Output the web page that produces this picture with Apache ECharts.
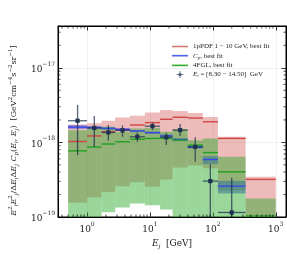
<!DOCTYPE html>
<html>
<head>
<meta charset="utf-8">
<script src="https://cdn.jsdelivr.net/npm/echarts@6/dist/echarts.min.js"></script>
<style>html,body{margin:0;padding:0;background:#fff}#c{width:287px;height:256px}</style>
</head>
<body>
<div id="c"></div>
<script>
// ---- data ----
const binEdges = [0.5, 1.0, 1.7, 2.8, 4.8, 8.3, 14.5, 22.9, 39.8, 69.2, 120.2, 331.1, 1000];

const pdfBest = [1.03e-18, 1.22e-18, 1.39e-18, 1.49e-18, 1.71e-18, 1.84e-18, 2.04e-18, 2.17e-18, 2.12e-18, 1.89e-18, 1.13e-18, 3.19e-19];
const pdfHigh = [1.74e-18, 1.80e-18, 1.95e-18, 2.15e-18, 2.28e-18, 2.51e-18, 2.71e-18, 2.63e-18, 2.48e-18, 2.19e-18, 1.19e-18, 3.45e-19];
const pdfLow  = [1.55e-19, 1.83e-19, 2.17e-19, 2.59e-19, 2.93e-19, 2.54e-19, 3.19e-19, 4.60e-19, 4.90e-19, 4.50e-19, 2.29e-19, 5.0e-20];

const cpBest = [1.60e-18, 1.58e-18, 1.54e-18, 1.49e-18, 1.42e-18, 1.35e-18, 1.22e-18, 1.09e-18, 8.7e-19, 5.9e-19, 2.59e-19, 5.0e-20];
const cpHigh = [1.70e-18, 1.65e-18, 1.60e-18, 1.55e-18, 1.47e-18, 1.40e-18, 1.28e-18, 1.14e-18, 9.1e-19, 6.55e-19, 3.05e-19, 6.0e-20];
const cpLow  = [1.52e-18, 1.52e-18, 1.48e-18, 1.44e-18, 1.38e-18, 1.30e-18, 1.17e-18, 1.04e-18, 8.3e-19, 5.1e-19, 2.07e-19, 4.0e-20];

const fglBest = [7.7e-19, 8.65e-19, 9.5e-19, 1.02e-18, 1.10e-18, 1.13e-18, 1.13e-18, 1.07e-18, 9.2e-19, 7.3e-19, 4.03e-19, 1.03e-19];
const fglHigh = [1.46e-18, 1.54e-18, 1.62e-18, 1.39e-18, 1.54e-18, 1.57e-18, 1.39e-18, 1.51e-18, 1.07e-18, 1.13e-18, 6.4e-19, 1.77e-19];
const fglLow  = [8e-20, 8e-20, 1.16e-19, 1.34e-19, 1.52e-19, 1.44e-19, 1.26e-19, 8e-20, 8e-20, 8e-20, 8e-20, 5e-20];

const dataVal = [1.95e-18, 1.56e-18, 1.36e-18, 1.45e-18, 1.19e-18, 1.65e-18, 1.17e-18, 1.46e-18, 8.7e-19, 3.03e-19, 1.15e-19];
const dataHi  = [3.17e-18, 2.25e-18, 1.71e-18, 1.69e-18, 1.36e-18, 1.83e-18, 1.35e-18, 1.76e-18, 1.17e-18, 5.1e-19, 3.35e-19];
const dataLo  = [6.75e-19, 8.7e-19, 1.05e-18, 1.19e-18, 1.02e-18, 1.46e-18, 9.2e-19, 1.22e-18, 5.5e-19, 5e-20, 5e-20];

const xMin = 0.3456, xMax = 1455;
const yMin = 1e-19, yMax = 3.63e-17;

const legendNames = ['1pPDF 1 − 10 GeV, best fit', 'Cp, best fit', '4FGL, best fit', 'Ei data'];

// ---- helpers ----
const SERIF = 'DejaVu Serif';
function clipRect(params, r) {
  const cs = params.coordSys;
  return echarts.graphic.clipRectByRect(r, {x: cs.x, y: cs.y, width: cs.width, height: cs.height});
}
function clampY(params, y) {
  const cs = params.coordSys;
  return Math.max(cs.y, Math.min(cs.y + cs.height, y));
}
function binData(a, b) {
  return binEdges.slice(0, -1).map((e, i) => [e, binEdges[i + 1], a[i], b ? b[i] : a[i]]);
}
function bandSeries(hi, lo, color) {
  return {
    type: 'custom', silent: true, z: 2,
    data: binData(hi, lo),
    encode: {x: [0, 1], y: [2, 3]},
    renderItem: function (params, api) {
      const p1 = api.coord([api.value(0), api.value(2)]);
      const p2 = api.coord([api.value(1), api.value(3)]);
      const r = clipRect(params, {x: p1[0], y: p1[1], width: p2[0] - p1[0], height: p2[1] - p1[1]});
      if (!r) return;
      return {type: 'rect', shape: r, style: {fill: color}};
    }
  };
}
function lineSeries(best, color, w) {
  return {
    type: 'custom', silent: true, z: 4,
    data: binData(best),
    encode: {x: [0, 1], y: [2]},
    renderItem: function (params, api) {
      const p1 = api.coord([api.value(0), api.value(2)]);
      const p2 = api.coord([api.value(1), api.value(2)]);
      const cs = params.coordSys;
      if (p1[1] > cs.y + cs.height || p1[1] < cs.y) return;
      return {type: 'line', shape: {x1: p1[0], y1: p1[1], x2: p2[0], y2: p2[1]},
        style: {stroke: color, lineWidth: w}};
    }
  };
}
function supLabel(v) {
  const e = Math.round(Math.log10(v));
  return '{b|10}{e|' + (e < 0 ? '−' + (-e) : e) + '}';
}
const labelRich = {
  b: {fontFamily: SERIF, fontSize: 9, color: '#222', lineHeight: 13, verticalAlign: 'bottom'},
  e: {fontFamily: SERIF, fontSize: 6, color: '#222', lineHeight: 13, verticalAlign: 'top'}
};

// minor tick values
const xMinor = [], yMinor = [];
for (let d = -1; d <= 3; d++) for (let m = 2; m <= 9; m++) {
  const v = m * Math.pow(10, d); if (v > xMin && v < xMax) xMinor.push([v, yMin]);
}
for (let d = -19; d <= -17; d++) for (let m = 2; m <= 9; m++) {
  const v = m * Math.pow(10, d); if (v > yMin && v < yMax) yMinor.push([xMin, v]);
}

const chart = echarts.init(document.getElementById('c'), null, {renderer: 'canvas'});
const axisCommon = {
  type: 'log', logBase: 10,
  axisLine: {show: true, lineStyle: {color: '#000', width: 1}},
  axisTick: {show: true, inside: true, length: 4.5, lineStyle: {color: '#000', width: 0.8}},
  splitLine: {show: false}
};
const lineIcon = 'path://M0,0h16v1.6h-16z';

const option = {
  animation: false,
  backgroundColor: '#fff',
  grid: {left: 48, right: 1, top: 26, bottom: 39, show: true, borderColor: '#000', borderWidth: 1, backgroundColor: 'transparent'},
  legend: {
    orient: 'vertical', left: 167, top: 38, itemGap: 2.2, itemWidth: 16, itemHeight: 7,
    data: [
      {name: legendNames[0], icon: lineIcon}, {name: legendNames[1], icon: lineIcon}, {name: legendNames[2], icon: lineIcon},
      {name: legendNames[3], icon: 'path://M4,0h1v9h-1z M0,4h9v1h-9z M2.8,2.8h3.4v3.4h-3.4z'}
    ],
    formatter: function (n) {
      if (n === legendNames[1]) return '{i|C}{s|p}{t|, best fit}';
      if (n === legendNames[3]) return '{i|E}{s|i}{t| = [8.30 − 14.50]  GeV}';
      return '{t|' + n + '}';
    },
    textStyle: {
      fontFamily: 'Liberation Serif', fontSize: 7, color: '#222',
      rich: {
        t: {fontFamily: 'Liberation Serif', fontSize: 7, color: '#222', lineHeight: 8},
        i: {fontFamily: 'Liberation Serif', fontStyle: 'italic', fontSize: 7, color: '#222', lineHeight: 8},
        s: {fontFamily: 'Liberation Serif', fontStyle: 'italic', fontSize: 5, color: '#222', lineHeight: 8, verticalAlign: 'bottom'}
      }
    }
  },
  xAxis: [
    Object.assign({}, axisCommon, {
      min: xMin, max: xMax, position: 'bottom',
      splitLine: {show: true, lineStyle: {color: '#ececec', width: 0.8}},
      axisLabel: {margin: 4, showMinLabel: false, showMaxLabel: false, formatter: supLabel, rich: labelRich},
      name: '{i|E}{s|j}{n|  [GeV]}', nameLocation: 'middle', nameGap: 19,
      nameTextStyle: {rich: {
        i: {fontFamily: SERIF, fontStyle: 'italic', fontSize: 9, color: '#222', lineHeight: 13},
        s: {fontFamily: SERIF, fontStyle: 'italic', fontSize: 6, color: '#222', lineHeight: 13, verticalAlign: 'bottom'},
        n: {fontFamily: SERIF, fontSize: 9, color: '#222', lineHeight: 13}
      }}
    }),
    Object.assign({}, axisCommon, {
      min: xMin, max: xMax, position: 'top', axisLabel: {show: false}
    })
  ],
  yAxis: [
    Object.assign({}, axisCommon, {
      min: yMin, max: yMax, position: 'left',
      splitLine: {show: true, lineStyle: {color: '#ececec', width: 0.8}},
      axisLabel: {margin: 3, showMinLabel: true, showMaxLabel: false, formatter: supLabel, rich: labelRich},
      name: '{i|E}{p|2}{s|i}{i|E}{p|2}{s|j}{n|/Δ}{i|E}{s|i}{n|Δ}{i|E}{s|j}{n| }{i|C}{s|p}{n|(}{i|E}{s|i}{n|, }{i|E}{s|j}{n|)  [GeV}{p|2}{n|cm}{p|−4}{n|s}{p|−2}{n|sr}{p|−1}{n|]}',
      nameLocation: 'middle', nameGap: 33, nameRotate: 90,
      nameTextStyle: {padding: [0, 18, 0, 0], rich: {
        i: {fontFamily: SERIF, fontStyle: 'italic', fontSize: 8, color: '#222', lineHeight: 12},
        n: {fontFamily: SERIF, fontSize: 8, color: '#222', lineHeight: 12},
        s: {fontFamily: SERIF, fontStyle: 'italic', fontSize: 5.5, color: '#222', lineHeight: 12, verticalAlign: 'bottom'},
        p: {fontFamily: SERIF, fontSize: 5.5, color: '#222', lineHeight: 12, verticalAlign: 'top'}
      }}
    }),
    Object.assign({}, axisCommon, {
      min: yMin, max: yMax, position: 'right', axisLabel: {show: false}
    })
  ],
  series: [
    // legend-only entries
    {type: 'line', name: legendNames[0], data: [], symbol: 'none', lineStyle: {color: '#d77a7a', width: 1.5}, itemStyle: {color: '#d77a7a'}},
    {type: 'line', name: legendNames[1], data: [], symbol: 'none', lineStyle: {color: '#5060ee', width: 1.5}, itemStyle: {color: '#5060ee'}},
    {type: 'line', name: legendNames[2], data: [], symbol: 'none', lineStyle: {color: '#2cb02c', width: 1.5}, itemStyle: {color: '#2cb02c'}},
    {type: 'scatter', name: legendNames[3], data: [], itemStyle: {color: '#1e3250'}},
    // bands
    bandSeries(pdfHigh, pdfLow, 'rgba(205,55,55,0.34)'),
    bandSeries(cpHigh, cpLow, 'rgba(60,70,235,0.55)'),
    bandSeries(fglHigh, fglLow, 'rgba(45,170,45,0.48)'),
    // best fit lines
    lineSeries(pdfBest, '#d04545', 1.4),
    lineSeries(cpBest, '#3a4ae6', 1.4),
    lineSeries(fglBest, '#22a022', 1.4),
    // data points with error bars
    {
      type: 'custom', silent: true, z: 6,
      data: dataVal.map((v, i) => [binEdges[i], binEdges[i + 1], v, dataHi[i], dataLo[i]]),
      encode: {x: [0, 1], y: [2, 3, 4]},
      renderItem: function (params, api) {
        const x0 = api.value(0), x1 = api.value(1);
        const xc = Math.sqrt(x0 * x1);
        const pc = api.coord([xc, api.value(2)]);
        const pl = api.coord([x0, api.value(2)]);
        const pr = api.coord([x1, api.value(2)]);
        const ph = api.coord([xc, api.value(3)]);
        const plo = api.coord([xc, api.value(4)]);
        const col = 'rgba(30,48,78,0.75)';
        return {type: 'group', children: [
          {type: 'line', shape: {x1: pc[0], y1: clampY(params, ph[1]), x2: pc[0], y2: clampY(params, plo[1])}, style: {stroke: col, lineWidth: 1.3}},
          {type: 'line', shape: {x1: pl[0], y1: pc[1], x2: pr[0], y2: pc[1]}, style: {stroke: col, lineWidth: 1.3}},
          {type: 'rect', shape: {x: pc[0] - 2.1, y: pc[1] - 2.1, width: 4.2, height: 4.2}, style: {fill: '#1e3250'}}
        ]};
      }
    },
    // minor ticks (x)
    {
      type: 'custom', silent: true, z: 7, data: xMinor, encode: {x: 0, y: 1},
      renderItem: function (params, api) {
        const cs = params.coordSys;
        const x = api.coord([api.value(0), api.value(1)])[0];
        const st = {stroke: '#000', lineWidth: 0.7};
        return {type: 'group', children: [
          {type: 'line', shape: {x1: x, y1: cs.y + cs.height, x2: x, y2: cs.y + cs.height - 2.5}, style: st},
          {type: 'line', shape: {x1: x, y1: cs.y, x2: x, y2: cs.y + 2.5}, style: st}
        ]};
      }
    },
    // minor ticks (y)
    {
      type: 'custom', silent: true, z: 7, data: yMinor, encode: {x: 0, y: 1},
      renderItem: function (params, api) {
        const cs = params.coordSys;
        const y = api.coord([api.value(0), api.value(1)])[1];
        const st = {stroke: '#000', lineWidth: 0.7};
        return {type: 'group', children: [
          {type: 'line', shape: {x1: cs.x, y1: y, x2: cs.x + 2.5, y2: y}, style: st},
          {type: 'line', shape: {x1: cs.x + cs.width, y1: y, x2: cs.x + cs.width - 2.5, y2: y}, style: st}
        ]};
      }
    }
  ]
};
chart.setOption(option);
</script>
</body>
</html>
